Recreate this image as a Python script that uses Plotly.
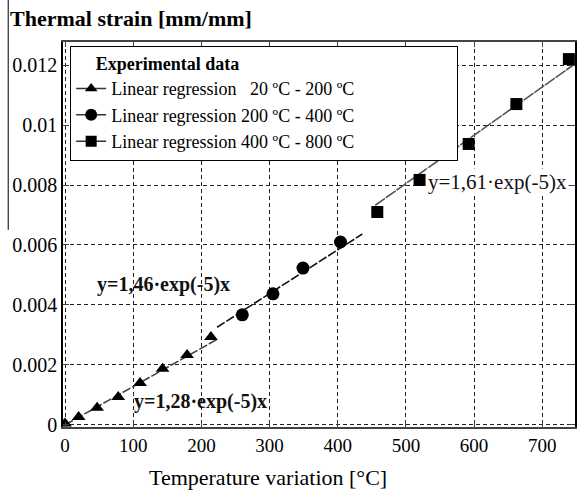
import plotly.graph_objects as go

# ---- data ----
tri_x = [0, 20, 47, 78, 110, 143, 179, 214]
tri_y = [0.00005, 0.00026, 0.00057, 0.00093, 0.0014, 0.00187, 0.00233, 0.00293]
cir_x = [260, 305, 349, 404]
cir_y = [0.00367, 0.00437, 0.00523, 0.0061]
sq_x = [458, 520, 592, 662, 739]
sq_y = [0.0071, 0.00817, 0.00937, 0.0107, 0.0122]

slopes = [1.28e-5, 1.46e-5, 1.61e-5]
fit_ranges = [[0, 225], [223, 436], [455, 745]]
eq_labels = ["y=1,28·exp(-5)x", "y=1,46·exp(-5)x", "y=1,61·exp(-5)x"]
legend_names = ["Linear regression \u00a0\u00a020 ºC - 200 ºC",
                "Linear regression 200 ºC - 400 ºC",
                "Linear regression 400 ºC - 800 ºC"]
x_ticks = [0, 100, 200, 300, 400, 500, 600, 700]
y_ticks = [0, 0.002, 0.004, 0.006, 0.008, 0.01, 0.012]
y_ticktext = ["0", "0.002", "0.004", "0.006", "0.008", "0.01", "0.012"]

FONT = "Liberation Serif, Times New Roman, Times, serif"
symbols = ["triangle-up", "circle", "square"]
msizes = [12, 13, 12]
line_colors = ["#444444", "#111111", "#555555"]
line_dash = ["9px,2px", "9px,2px", "12px,1px"]

fig = go.Figure()
series = [(tri_x, tri_y), (cir_x, cir_y), (sq_x, sq_y)]
for i, (xs, ys) in enumerate(series):
    x0, x1 = fit_ranges[i]
    fig.add_trace(go.Scatter(x=[x0, x1], y=[slopes[i] * x0, slopes[i] * x1],
                             mode="lines", showlegend=False,
                             line=dict(color=line_colors[i], width=1.6, dash=line_dash[i])))
    fig.add_trace(go.Scatter(x=xs, y=ys, mode="markers", showlegend=False,
                             marker=dict(symbol=symbols[i], size=msizes[i], color="black")))
    fig.add_trace(go.Scatter(x=[None], y=[None], mode="lines+markers", name=legend_names[i],
                             marker=dict(symbol=symbols[i], size=msizes[i] - 1, color="black"),
                             line=dict(color="#333333", width=1.5)))

# equation annotations
fig.add_annotation(x=198, y=0.00077, text="<b>" + eq_labels[0] + "</b>", showarrow=False,
                   font=dict(family=FONT, size=20, color="#111"))
fig.add_annotation(x=145, y=0.00467, text="<b>" + eq_labels[1] + "</b>", showarrow=False,
                   font=dict(family=FONT, size=20, color="#111"))
fig.add_annotation(x=634, y=0.0081, text=eq_labels[2], showarrow=False,
                   font=dict(family=FONT, size=21, color="#111"), bgcolor="white")

# axis titles
fig.add_annotation(xref="paper", yref="paper", x=-0.107, y=1.062, xanchor="left", yanchor="middle",
                   text="<b>Thermal strain [mm/mm]</b>", showarrow=False,
                   font=dict(family=FONT, size=22, color="black"))
fig.add_annotation(xref="paper", yref="paper", x=0.40, y=-0.132, xanchor="center", yanchor="middle",
                   text="Temperature variation [°C]", showarrow=False,
                   font=dict(family=FONT, size=22, color="black"))

# stray vertical line on the left (as in the reference)
fig.add_shape(type="line", xref="paper", yref="paper", x0=-0.107, x1=-0.107, y0=1.11, y1=0.512,
              line=dict(color="black", width=1))

grid = dict(showgrid=True, gridcolor="#222222", gridwidth=1, griddash="4px,3px")
fig.update_xaxes(range=[-3, 748], tickvals=x_ticks, ticks="inside", ticklen=5, mirror="ticks",
                 showline=True, linecolor="#444", linewidth=2, zeroline=False,
                 tickfont=dict(family=FONT, size=19, color="black"), **grid)
fig.update_yaxes(range=[-0.00007, 0.01277], tickvals=y_ticks, ticktext=y_ticktext,
                 ticks="inside", ticklen=6, mirror="ticks", showline=True, linecolor="black",
                 linewidth=1.5, zeroline=False,
                 tickfont=dict(family=FONT, size=20, color="black"), **grid)

pad = "\u00a0" * 5
tail = "\u00a0" * 48
fig.update_layout(
    width=577, height=493,
    margin=dict(l=63, r=0, t=42, b=66),
    plot_bgcolor="white", paper_bgcolor="white",
    font=dict(family=FONT, color="black"),
    legend=dict(x=0.014, y=0.99, xanchor="left", yanchor="top",
                bgcolor="white", bordercolor="black", borderwidth=1,
                font=dict(family=FONT, size=18, color="black"),
                title=dict(text=pad + "<b>Experimental data</b>" + tail,
                           font=dict(family=FONT, size=18)),
                itemwidth=30, tracegroupgap=0),
)

fig.write_html("out.html")
